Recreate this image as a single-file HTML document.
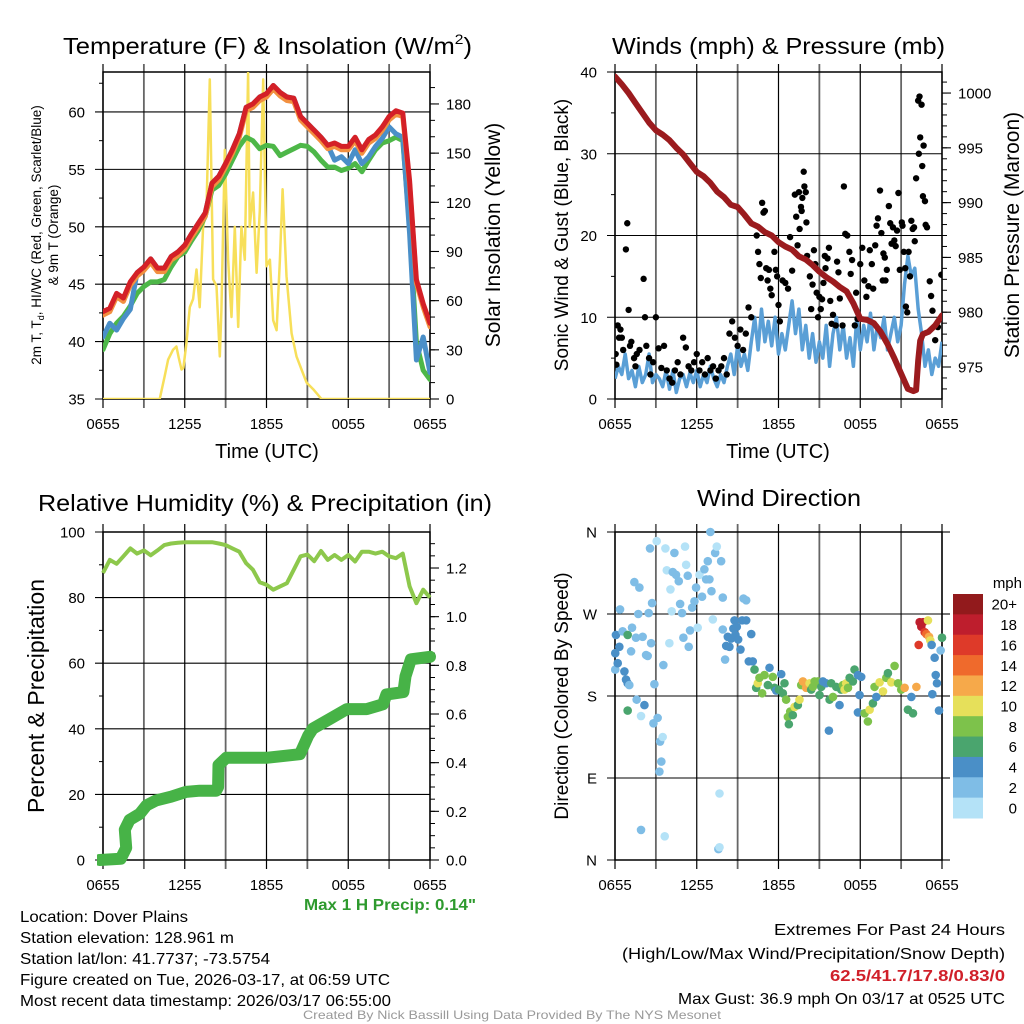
<!DOCTYPE html>
<html><head><meta charset="utf-8"><title>Dover Plains Meteogram</title>
<style>
html,body{margin:0;padding:0;background:#fff;}
svg{display:block;font-family:"Liberation Sans",sans-serif;}
</style></head>
<body>
<svg id="chart" width="1024" height="1024" viewBox="0 0 1024 1024" xmlns="http://www.w3.org/2000/svg">
<rect x="0" y="0" width="1024" height="1024" fill="#fff"/>
<defs>
<clipPath id="c1"><rect x="103" y="72" width="327" height="327"/></clipPath>
<clipPath id="c2"><rect x="615" y="72" width="327" height="327"/></clipPath>
<clipPath id="c3"><rect x="97" y="526" width="340" height="340"/></clipPath>
<clipPath id="c4"><rect x="608" y="526" width="340" height="340"/></clipPath>
</defs>
<text x="63" y="54" font-size="23" textLength="409" lengthAdjust="spacingAndGlyphs">Temperature (F) &amp; Insolation (W/m<tspan font-size="14" dy="-10">2</tspan><tspan dy="10">)</tspan></text>
<text x="612" y="54" font-size="23" textLength="333" lengthAdjust="spacingAndGlyphs">Winds (mph) &amp; Pressure (mb)</text>
<text x="38" y="511" font-size="23" textLength="454" lengthAdjust="spacingAndGlyphs">Relative Humidity (%) &amp; Precipitation (in)</text>
<text x="697" y="506" font-size="23" textLength="164" lengthAdjust="spacingAndGlyphs">Wind Direction</text>
<text x="267" y="458" font-size="20" text-anchor="middle">Time (UTC)</text>
<text x="778" y="458" font-size="20" text-anchor="middle">Time (UTC)</text>
<text transform="translate(41,235) rotate(-90)" font-size="13.5" text-anchor="middle">2m T, T<tspan font-size="9" dy="3">d</tspan><tspan dy="-3">, HI/WC (Red, Green, Scarlet/Blue)</tspan></text>
<text transform="translate(58,235) rotate(-90)" font-size="13.5" text-anchor="middle">&amp; 9m T (Orange)</text>
<text transform="translate(500,235) rotate(-90)" font-size="21" text-anchor="middle">Solar Insolation (Yellow)</text>
<text transform="translate(568,235) rotate(-90)" font-size="19" text-anchor="middle">Sonic Wind &amp; Gust (Blue, Black)</text>
<text transform="translate(1019,235) rotate(-90)" font-size="21" text-anchor="middle">Station Pressure (Maroon)</text>
<text transform="translate(44,696) rotate(-90)" font-size="23" text-anchor="middle">Percent &amp; Precipitation</text>
<text transform="translate(568,696) rotate(-90)" font-size="19" text-anchor="middle">Direction (Colored By Speed)</text>
<text x="1022" y="588" font-size="15" text-anchor="end">mph</text>
<text x="304" y="910" font-size="16" font-weight="bold" fill="#2e9a2e" textLength="172" lengthAdjust="spacingAndGlyphs">Max 1 H Precip: 0.14"</text>
<text x="20" y="922" font-size="16" textLength="168" lengthAdjust="spacingAndGlyphs">Location: Dover Plains</text>
<text x="20" y="943" font-size="16" textLength="214" lengthAdjust="spacingAndGlyphs">Station elevation: 128.961 m</text>
<text x="20" y="964" font-size="16" textLength="250" lengthAdjust="spacingAndGlyphs">Station lat/lon: 41.7737; -73.5754</text>
<text x="20" y="985" font-size="16" textLength="370" lengthAdjust="spacingAndGlyphs">Figure created on Tue, 2026-03-17, at 06:59 UTC</text>
<text x="20" y="1006" font-size="16" textLength="371" lengthAdjust="spacingAndGlyphs">Most recent data timestamp: 2026/03/17 06:55:00</text>
<text x="774" y="935" font-size="16" textLength="231" lengthAdjust="spacingAndGlyphs">Extremes For Past 24 Hours</text>
<text x="622" y="959" font-size="16" textLength="383" lengthAdjust="spacingAndGlyphs">(High/Low/Max Wind/Precipitation/Snow Depth)</text>
<text x="830" y="981" font-size="16" font-weight="bold" fill="#d0202a" textLength="175" lengthAdjust="spacingAndGlyphs">62.5/41.7/17.8/0.83/0</text>
<text x="678" y="1004" font-size="16" textLength="327" lengthAdjust="spacingAndGlyphs">Max Gust: 36.9 mph On 03/17 at 0525 UTC</text>
<text x="303" y="1019" font-size="12" fill="#999" textLength="418" lengthAdjust="spacingAndGlyphs">Created By Nick Bassill Using Data Provided By The NYS Mesonet</text>
</svg>
<script>
const xTickLabels = ["0655","1255","1855","0055","0655"];
const tempT = [42.6,42.9,44.2,43.8,45.2,46.0,46.5,47.2,46.4,46.4,47.4,47.8,48.4,49.4,50.3,51.2,53.8,54.4,55.5,56.7,58.1,60.4,60.7,61.3,61.6,62.3,61.7,61.3,61.2,59.6,59.0,58.4,57.8,57.1,57.3,57.0,57.0,57.8,56.7,57.6,58.0,58.7,59.6,60.1,59.9,54.0,45.4,43.3,41.6];
const temp9m = [42.3,42.6,43.9,43.5,44.9,45.7,46.2,46.9,46.1,46.1,47.1,47.5,48.1,49.1,50.0,50.9,53.5,54.1,55.2,56.4,57.8,60.1,60.4,61.0,61.3,62.0,61.4,61.0,60.9,59.3,58.7,58.1,57.5,56.8,57.0,56.7,56.7,57.5,56.4,57.3,57.7,58.4,59.3,59.8,59.6,53.7,45.1,43.0,41.3];
const tempTd = [39.3,40.7,41.6,42.2,43.1,44.2,44.8,45.2,45.2,45.4,46.5,47.4,47.8,48.8,49.7,50.9,53.2,53.6,54.6,55.8,57.0,57.8,57.5,56.8,57.1,57.0,56.2,56.5,56.8,57.1,57.0,56.5,55.8,55.2,55.2,54.9,55.1,55.5,54.8,55.8,56.7,57.3,57.5,57.8,57.5,50.0,39.9,37.5,36.7];
const tempWC = [40.4,41.6,41.0,42.0,42.8,46.0,46.5,47.2,46.4,46.4,47.4,47.8,48.4,49.4,50.3,51.2,53.8,54.4,55.5,56.7,58.1,60.4,60.7,61.3,61.6,62.3,61.7,61.3,61.2,59.6,59.0,58.4,57.8,57.1,55.8,56.1,55.5,56.7,55.5,56.1,57.0,57.7,58.7,58.1,57.8,49.4,38.4,40.4,37.3];
const solarH = [0,4.16,4.53,4.78,5.14,5.39,5.56,5.76,5.9,6.12,6.37,6.61,6.86,7.10,7.35,7.59,7.84,8.08,8.33,8.57,8.69,8.94,9.18,9.43,9.67,9.92,10.16,10.41,10.65,10.77,11.02,11.27,11.51,11.76,12.0,12.25,12.49,12.74,12.98,13.18,13.47,13.84,14.2,14.57,14.94,15.43,16.04,24];
const solarV = [0,0,14,24,30,32,25,18,19,34,56,61,79,56,105,115,195,73,69,26,54,152,85,50,105,44,105,85,199,105,126,77,115,195,81,85,48,42,85,128,75,40,26,18,10,6,0,0];
const presH = [0,0.5,1,1.5,2,2.5,3,3.5,4,4.5,5,5.5,6,6.5,7,7.5,8,8.5,9,9.5,10,10.5,11,11.5,12,12.5,13,13.5,14,14.5,15,15.5,16,16.5,17,17.5,18,18.5,19,19.5,20,20.5,21,21.5,21.9,22.1,22.25,22.4,22.6,23,23.5,24];
const presV = [1001.5,1000.8,1000.0,999.1,998.2,997.3,996.6,996.2,995.7,995.0,994.4,993.6,992.8,992.4,991.8,991.0,990.5,989.8,989.6,988.9,988.1,987.8,987.3,987.0,986.4,986.0,985.7,985.1,984.8,984.3,983.7,983.2,982.8,982.3,981.9,980.8,979.4,979.3,979.0,978.2,977.1,975.8,974.4,973.0,972.8,972.9,975.6,977.4,978.0,978.2,978.8,979.7];
const windV = [2.5,4,3,5.5,2.5,3.5,1.5,4,2, 3,5.5,2,3,2.5,1.5,3.5,1.2, 3.5,0.8,2.5,3,1.5,3.2,2,3.5, 1.5,3,2,4,2.5,1.5,3,2, 4,5.5,3,6.5,4,5.5,3.5,7, 10,6,11,7,9.5,6.5,10,5.5, 8,6,9,12,8,11,6,9, 5,8,4.5,7,5,9,4,8, 10,6,9,5,7.5,4,10,6, 9,7,10.5,6,9,7.5,10,6, 8,10,7,9,14,17.5,15,16, 11,8,4,6,3,5,4,7];
const gustH = [0.05,0.1,0.2,0.3,0.4,0.5,0.6,0.8,0.9,1.0,1.1,1.2,1.4,1.5,1.6,1.8,2.1,2.2,2.3,2.5,2.6,2.8,3.0,3.2,3.4,3.6,3.8,4.0,4.2,4.4,4.6,4.8,5.0,5.2,5.4,5.6,5.8,6.0,6.2,6.4,6.6,6.8,7.0,7.2,7.4,7.6,7.8,8.0,8.2,8.4,8.6,8.8,9.0,9.2,9.4,9.6,9.8,10.0,
10.4,10.5,10.6,10.7,10.8,10.9,11.0,11.1,11.2,11.3,11.4,11.5,11.7,11.8,11.9,12.0,12.1,12.3,12.5,12.7,12.85,13.0,13.2,13.3,13.4,13.5,13.55,13.65,13.7,13.75,13.85,13.9,14.0,14.05,14.1,14.3,14.4,14.5,14.6,14.7,14.8,14.9,15.0,15.1,15.2,15.3,15.4,15.45,15.6,15.7,15.8,15.9,16.0,16.2,16.3,16.4,16.5,16.7,16.8,16.9,17.05,17.2,17.3,17.4,17.6,17.7,17.8,18.0,18.15,18.3,18.45,18.6,18.7,18.85,18.95,19.1,19.2,19.3,19.45,19.55,19.65,19.7,19.8,19.85,19.95,20.1,20.2,20.3,20.4,20.5,20.6,20.7,20.8,20.9,21.05,21.1,21.2,21.3,21.35,21.45,21.55,21.65,21.75,21.85,21.95,22.0,22.1,22.25,22.35,22.3,22.4,22.5,22.55,22.6,22.65,22.75,22.8,22.9,23.1,23.2,23.3,23.5,23.7,23.95];
const gustV = [5.5,4.2,9,7.5,8.5,7.5,6,18.3,21.5,10.9,6.5,7,5,4,5.5,6,14.7,10,6.5,5,3,4.5,10,6.2,3.8,6.5,3.5,2.5,2,3.5,4.5,3,7.5,6.3,4,3.5,4.5,5.5,3.5,4.5,3,5,3.5,4,2.5,3.5,4,5,3,8,9.5,7.5,6.5,8.5,6,8,11.2,10,
20,18,16.5,14.8,24,22.8,23,16,14.5,15.8,13.5,12.7,18,15.8,15,11.5,9.5,14.5,14.2,13.5,19.8,15.7,25,22.3,18.8,25.3,20.8,23.5,23,24.6,27.8,26,25.3,21.6,17.5,15,11,14,18.2,16.5,13,10,12.5,11,12.2,14.2,17.5,16,17.2,18.5,12,9.2,10.3,9,16.8,15.5,12.3,9,26,20.2,20,18,15.3,17,9,13,9.8,16.5,18.5,14.5,12.5,13.8,18.2,16.5,13.5,18.8,21.2,22.1,25.5,20.3,14.5,17.8,17.3,14.5,15.8,23.6,21.5,19,21,19.4,18.7,20.6,25.2,15.8,21.6,21.2,18,16,11.3,10.6,18,15,21.8,20.8,21,19.3,27,36.5,37,30,32,36,28.5,24.8,31,24.2,21.3,21,14.4,12.6,10.8,7.2,8.8,15.2];
const rhV = [87.5,91.5,90.3,92.6,95,93.4,94.4,92.9,94.4,96,96.5,96.7,96.9,96.9,96.9,96.9,96.9,96.5,96,95,94,90.5,88.5,84.7,83.9,82.4,83.4,84.4,88.5,92.6,93.1,91.1,94.2,91.5,93,91.5,93,91,94,94,93.4,94,92.6,92,93.4,83.4,78.3,82.4,80];
const precipH = [-0.25,1.3,1.7,1.6,1.95,2.7,3.2,3.9,5.0,6.1,7.1,8.3,8.45,8.48,9.05,12.0,14.45,15.05,15.4,16.65,17.9,19.35,20.55,20.8,22.05,22.2,22.6,24.0];
const precipV = [0,0.005,0.05,0.125,0.165,0.19,0.225,0.245,0.26,0.28,0.285,0.285,0.3,0.39,0.42,0.42,0.435,0.51,0.54,0.58,0.62,0.62,0.64,0.68,0.69,0.755,0.825,0.835];
const dirH = [0.07,0.02,0.02,0.2,0.32,0.37,0.56,0.69,0.81,0.93,1.05,0.93,0.93,1.18,1.25,1.42,1.54,1.59,1.71,1.79,1.91,1.91,2.03,2.16,2.28,2.4,2.47,2.57,2.65,2.72,2.82,2.89,3.06,3.13,3.26,3.31,3.4,3.5,3.55,3.65,3.7,3.8,3.99,4.07,4.16,4.24,4.36,4.48,4.68,4.78,4.92,5.02,5.14,5.22,5.34,5.41,5.51,5.66,5.83,5.95,6.07,6.2,6.39,6.56,6.69,6.81,6.93,7.0,7.08,7.18,7.35,7.47,7.59,7.67,7.67,7.79,7.91,7.91,8.08,8.16,8.28,8.4,8.52,8.69,8.77,8.84,8.94,9.04,9.21,9.33,9.43,9.63,9.63,9.82,10.0,10.11,
10.24,10.36,10.48,10.6,10.8,10.97,11.22,11.34,11.58,11.71,11.83,12.03,12.2,12.32,12.44,12.56,12.69,12.76,12.86,13.05,13.18,13.42,13.54,13.67,13.79,14.03,14.16,14.28,14.4,14.52,14.65,14.89,15.01,15.14,15.26,15.5,15.7,15.75,15.87,16.0,16.24,16.48,16.6,16.73,16.85,16.97,17.1,17.22,17.46,17.58,17.83,17.95,18.07,17.83,18.32,18.56,18.69,18.93,19.05,19.18,19.42,19.67,19.91,20.03,20.28,20.52,20.77,21.01,21.26,21.5,21.75,21.87,22.12,22.29,22.36,22.48,22.61,22.73,22.85,22.97,23.05,23.14,23.24,23.29,23.46,23.54,23.63,23.78,23.9,24.0];
const dirD = [247,227,209,216,234,275,251,207,198,194,192,247,164,229,255,305,244,176,270,299,158,33,245,170,225,224,271,342,238,282,150,193,350,156,97,130,108,135,214,26,342,318,238,297,273,316,337,313,306,281,271,244,344,324,312,234,252,277,284,299,255,313,289,319,308,328,308,360,295,264,337,344,12,73,14,328,288,253,220,235,245,234,243,254,263,247,256,242,231,263,287,285,263,218,248,218,
209,189,194,200,183,203,192,211,201,189,186,187,204,183,194,176,157,149,163,159,168,170,176,192,196,189,190,194,187,190,196,196,181,190,196,194,142,176,194,179,190,170,187,192,187,194,189,200,196,209,203,181,201,162,161,152,165,172,190,179,195,185,200,205,195,213,194,187,189,165,179,161,190,236,261,256,261,250,248,263,245,241,236,182,222,203,194,164,230,244];
const dirS = [5,5,3,5,5,3,3,5,5,5,3,7,7,3,3,3,3,3,3,3,1,3,3,5,3,3,3,3,3,3,3,3,1,3,3,3,3,1,3,1,1,1,1,1,1,3,3,3,3,3,3,3,1,1,3,3,3,3,3,3,1,1,3,3,3,3,3,3,3,1,3,1,3,1,1,3,3,3,3,5,5,5,5,5,5,5,5,5,5,5,3,3,5,5,5,5,
7,7,11,9,9,9,7,5,9,7,5,7,5,7,7,9,9,7,9,7,11,7,11,9,13,13,13,11,7,9,9,9,7,7,5,5,5,7,7,9,7,5,7,9,11,11,9,7,7,7,5,5,5,5,9,9,11,7,9,5,11,11,9,7,11,9,9,9,13,7,5,7,13,17,19,19,19,17,15,11,13,11,5,5,5,5,5,5,3,7];
const speedLabels = ["0","2","4","6","8","10","12","14","16","18","20+"];
const speedColors = ["#b4e2f7","#7fbde6","#4a8fc7","#4aa56e","#7dc24b","#e6e05a","#f6a94a","#ef6a2c","#de3a29","#be1e2d","#921a1c"];

const NS = "http://www.w3.org/2000/svg";
const svg = document.getElementById("chart");
function mk(tag, attrs, parent){
  const e = document.createElementNS(NS, tag);
  for (const k in attrs) e.setAttribute(k, attrs[k]);
  (parent || svg).appendChild(e);
  return e;
}
function scaleLin(d0, d1, r0, r1){ return v => r0 + (v - d0) * (r1 - r0) / (d1 - d0); }

const P = {
  temp: {x0:103,x1:430,y0:72,y1:399, lmin:35,lmax:63.48, rmin:0,rmax:199.5, key:"temp"},
  wind: {x0:615,x1:942,y0:72,y1:399, lmin:0,lmax:40, rmin:972.08,rmax:1001.92, key:"wind"},
  rh:   {x0:103,x1:430,y0:532,y1:860, lmin:0,lmax:100, rmin:0,rmax:1.348, key:"rh"},
  dir:  {x0:615,x1:942,y0:532,y1:860, lmin:0,lmax:360, key:"dir"}
};
for (const k in P){
  const p = P[k];
  p.xs = scaleLin(0, 24, p.x0, p.x1);
  p.yl = scaleLin(p.lmin, p.lmax, p.y1, p.y0);
  if (p.rmax !== undefined) p.yr = scaleLin(p.rmin, p.rmax, p.y1, p.y0);
}

function drawFrame(p, leftTicks, leftLabels, leftMinor, rightTicks, rightLabels, rightMinor){
  const g = mk("g", {});
  
  
  for (let h = 0; h <= 24; h += 3){
    const major = (h % 6 === 0);
    const ln = mk("line", {x1:p.xs(h), x2:p.xs(h), y1:p.y0-8, y2:p.y1+9, stroke: major ? "#000" : "#666", "stroke-width": major ? 1.2 : 1.8}, g);
    
    
  }
  for (let i = 0; i < xTickLabels.length; i++){
    const t = mk("text", {x:p.xs(i*6), y:p.y1+30, "font-size":15, "text-anchor":"middle"}, g);
    t.textContent = xTickLabels[i];
    
    
  }
  for (let i = 0; i < leftTicks.length; i++){
    const y = p.yl(leftTicks[i]);
    const ln = mk("line", {x1:p.x0-8, x2:p.x1, y1:y, y2:y, stroke:"#000", "stroke-width":1.1}, g);
    
    
    const t = mk("text", {x:p.x0-18, y:y+5.5, "font-size":15, "text-anchor":"end"}, g);
    t.textContent = leftLabels[i];
    
    
  }
  for (const v of leftMinor){
    const y = p.yl(v);
    const ln = mk("line", {x1:p.x0-4, x2:p.x0, y1:y, y2:y, stroke:"#000", "stroke-width":1}, g);
    
    
  }
  if (rightTicks){
    for (let i = 0; i < rightTicks.length; i++){
      const y = p.yr(rightTicks[i]);
      const ln = mk("line", {x1:p.x1, x2:p.x1+9, y1:y, y2:y, stroke:"#000", "stroke-width":1.1}, g);
      
      
      const t = mk("text", {x:p.x1+16, y:y+5.5, "font-size":15}, g);
      t.textContent = rightLabels[i];
      
      
    }
    for (const v of rightMinor){
      const y = p.yr(v);
      const ln = mk("line", {x1:p.x1, x2:p.x1+5, y1:y, y2:y, stroke:"#000", "stroke-width":1}, g);
      
      
    }
  } else {
    for (let i = 0; i < leftTicks.length; i++){
      const y = p.yl(leftTicks[i]);
      const ln = mk("line", {x1:p.x1, x2:p.x1+8, y1:y, y2:y, stroke:"#000", "stroke-width":1.1}, g);
      
      
    }
  }
  const fr = mk("rect", {x:p.x0, y:p.y0, width:p.x1-p.x0, height:p.y1-p.y0, fill:"none", stroke:"#000", "stroke-width":1.5}, g);
  
  
}
function range(a, b, s){ const r = []; for (let v = a; v <= b + 1e-9; v += s) r.push(+v.toFixed(4)); return r; }
function linePath(p, hs, vs, ys){
  let d = "";
  for (let i = 0; i < vs.length; i++) d += (i ? "L" : "M") + p.xs(hs[i]).toFixed(1) + "," + ys(vs[i]).toFixed(1);
  return d;
}
const halfHours = tempT.map((_, i) => i * 0.5);
const quarterHours = windV.map((_, i) => i * 0.25);

drawFrame(P.temp, [35,40,45,50,55,60], ["35","40","45","50","55","60"], range(37.5,62.5,5),
  range(0,180,30), ["0","30","60","90","120","150","180"], range(10,190,10));
{
  const p = P.temp;
  const g = mk("g", {"clip-path":"url(#c1)"});
  
  
  const sol = mk("path", {d:linePath(p, solarH, solarV, p.yr), fill:"none", stroke:"#f7df5a", "stroke-width":2.5, "stroke-linejoin":"round"}, g);
  
  
  const gr = mk("path", {d:linePath(p, halfHours, tempTd, p.yl), fill:"none", stroke:"#4db748", "stroke-width":5, "stroke-linejoin":"round", "stroke-linecap":"round"}, g);
  
  
  const bl = mk("path", {d:linePath(p, halfHours, tempWC, p.yl), fill:"none", stroke:"#4a8fc8", "stroke-width":5, "stroke-linejoin":"round", "stroke-linecap":"round"}, g);
  
  
  const or = mk("path", {d:linePath(p, halfHours, temp9m, p.yl), fill:"none", stroke:"#f29040", "stroke-width":5, "stroke-linejoin":"round", "stroke-linecap":"round"}, g);
  
  
  const rd = mk("path", {d:linePath(p, halfHours, tempT, p.yl), fill:"none", stroke:"#d42027", "stroke-width":5, "stroke-linejoin":"round", "stroke-linecap":"round"}, g);
  
  
}

drawFrame(P.wind, [0,10,20,30,40], ["0","10","20","30","40"], [5,15,25,35],
  [975,980,985,990,995,1000], ["975","980","985","990","995","1000"], range(973,1001,1));
{
  const p = P.wind;
  const g = mk("g", {"clip-path":"url(#c2)"});
  
  
  const wl = mk("path", {d:linePath(p, quarterHours, windV, p.yl), fill:"none", stroke:"#5a9fd6", "stroke-width":3.5, "stroke-linejoin":"round"}, g);
  
  
  for (let i = 0; i < gustH.length; i++){
    const c = mk("circle", {cx:p.xs(gustH[i]), cy:p.yl(gustV[i]), r:3.2, fill:"#000"}, g);
    
    
  }
  const pr = mk("path", {d:linePath(p, presH, presV, p.yr), fill:"none", stroke:"#9b1b1e", "stroke-width":6, "stroke-linejoin":"round", "stroke-linecap":"round"}, g);
  
  
}

drawFrame(P.rh, [0,20,40,60,80,100], ["0","20","40","60","80","100"], [10,30,50,70,90],
  range(0,1.2,0.2), ["0.0","0.2","0.4","0.6","0.8","1.0","1.2"], range(0.05,1.3,0.05));
{
  const p = P.rh;
  const g = mk("g", {"clip-path":"url(#c3)"});
  
  
  const rh = mk("path", {d:linePath(p, halfHours, rhV, p.yl), fill:"none", stroke:"#8dc84c", "stroke-width":4, "stroke-linejoin":"round"}, g);
  
  
  const pc = mk("path", {d:linePath(p, precipH, precipV, p.yr), fill:"none", stroke:"#47b347", "stroke-width":12, "stroke-linejoin":"round", "stroke-linecap":"round"}, g);
  
  
}

drawFrame(P.dir, [0,90,180,270,360], ["N","E","S","W","N"], [], null, null, null);
{
  const p = P.dir;
  const g = mk("g", {"clip-path":"url(#c4)"});
  
  
  for (let i = 0; i < dirH.length; i++){
    const bin = Math.min(10, Math.floor(dirS[i] / 2));
    const c = mk("circle", {cx:p.xs(dirH[i]), cy:p.yl(dirD[i]), r:4.3, fill:speedColors[bin]}, g);
    
    
  }
  const cb = mk("g", {});
  
  
  const bh = (818 - 594) / speedColors.length;
  for (let i = 0; i < speedColors.length; i++){
    const idx = speedColors.length - 1 - i;
    const r = mk("rect", {x:953, y:594 + i*bh, width:30, height:bh + 0.5, fill:speedColors[idx]}, cb);
    
    
    const t = mk("text", {x:1017, y:594 + i*bh + bh/2 + 5.5, "font-size":15, "text-anchor":"end"}, cb);
    t.textContent = speedLabels[idx];
    
    
  }
}
</script>
</body></html>
